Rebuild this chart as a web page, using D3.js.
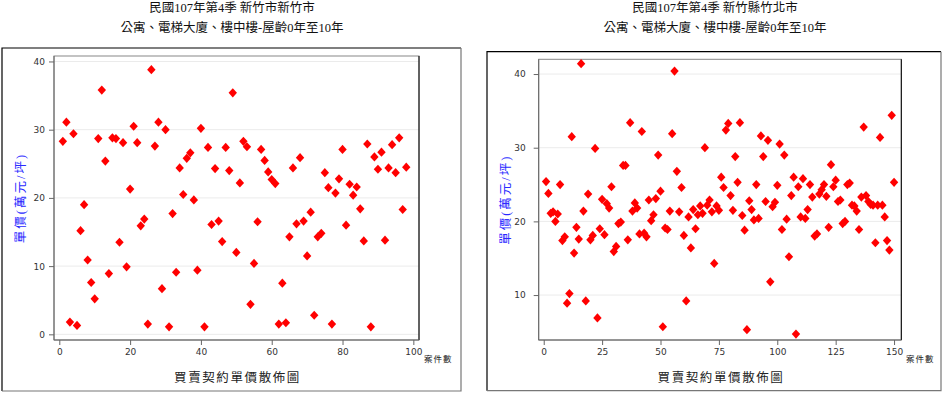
<!DOCTYPE html>
<html>
<head>
<meta charset="utf-8">
<script src="https://cdn.jsdelivr.net/npm/d3@7/dist/d3.min.js"></script>
<style>
  body { margin: 0; background: #fff; }
  svg { display: block; }
  .cjk { font-family: "Liberation Serif", "Noto Sans CJK TC", serif; }
  .tick text { font-family: "DejaVu Sans", sans-serif; font-size: 9px; fill: #333; }
  .tick line, .domain { stroke: #666; }
</style>
</head>
<body>
<div id="chart"></div>
<script>
'use strict';

// chart 1: 新竹市新竹市
let leftTitle = ['民國107年第4季 新竹市新竹市', '公寓、電梯大廈、樓中樓-屋齡0年至10年'];
let leftValues = [
  28.3, 31.1, 1.8, 29.4, 1.3, 15.2, 19.0, 10.9, 7.6, 5.2,
  28.7, 35.8, 25.4, 8.9, 28.8, 28.7, 13.5, 28.1, 9.9, 21.3,
  30.5, 28.1, 15.9, 16.9, 1.5, 38.8, 27.6, 31.1, 6.7, 30.0,
  1.1, 17.7, 9.1, 24.4, 20.5, 25.8, 26.6, 19.7, 9.4, 30.2,
  1.1, 27.4, 16.1, 24.3, 16.6, 13.6, 27.4, 24.0, 35.4, 12.0,
  22.2, 28.3, 27.5, 4.4, 10.4, 16.5, 27.1, 25.5, 23.8, 22.7,
  22.1, 1.5, 7.5, 1.7, 14.3, 24.4, 16.2, 25.9, 16.6, 11.5,
  17.9, 2.8, 14.3, 14.8, 23.7, 21.5, 1.5, 20.7, 22.8, 27.1,
  16.0, 22.0, 20.4, 21.6, 18.4, 13.7, 27.9, 1.1, 26.0, 24.2,
  26.7, 13.8, 24.4, 27.8, 23.7, 28.8, 18.3, 24.5
];
let leftXTicks = [0, 20, 40, 60, 80, 100];
let leftYTicks = [0, 10, 20, 30, 40];

// chart 2: 新竹縣竹北市
let rightTitle = ['民國107年第4季 新竹縣竹北市', '公寓、電梯大廈、樓中樓-屋齡0年至10年'];
let rightValues = [
  25.4, 23.8, 21.1, 21.3, 20.0, 21.0, 25.0, 17.4, 17.9, 8.9,
  10.2, 31.5, 15.7, 19.2, 17.6, 41.4, 21.4, 9.2, 23.7, 17.5,
  18.1, 29.9, 6.9, 19.0, 23.0, 18.2, 22.4, 21.8, 24.7, 15.9,
  16.6, 19.7, 19.9, 27.6, 27.6, 17.5, 33.4, 21.4, 22.5, 21.8,
  18.3, 32.2, 18.4, 17.9, 22.9, 20.1, 20.9, 23.1, 29.0, 24.1,
  5.7, 19.1, 18.9, 21.4, 31.9, 40.4, 26.8, 21.3, 24.6, 18.1,
  9.2, 20.6, 16.4, 21.6, 19.0, 20.9, 22.1, 21.1, 30.0, 22.2,
  22.9, 21.3, 14.3, 22.1, 21.5, 26.0, 24.6, 32.4, 33.3, 23.5,
  21.5, 28.8, 25.3, 33.4, 20.8, 18.8, 5.3, 22.8, 21.6, 20.2,
  25.0, 20.4, 31.6, 28.8, 22.7, 31.0, 11.8, 22.0, 22.6, 24.9,
  30.5, 18.9, 29.0, 20.3, 15.2, 23.5, 26.0, 4.7, 24.7, 20.6,
  25.8, 20.4, 21.6, 25.0, 23.3, 18.0, 18.3, 23.7, 24.3, 25.0,
  23.4, 19.2, 27.7, 24.7, 25.6, 22.7, 22.9, 19.7, 20.0, 25.0,
  25.2, 22.2, 22.1, 21.4, 18.9, 23.3, 32.8, 23.5, 22.7, 22.3,
  22.2, 17.1, 22.2, 31.4, 22.2, 20.6, 17.4, 16.1, 34.4, 25.3
];
let rightXTicks = [0, 25, 50, 75, 100, 125, 150];
let rightYTicks = [10, 20, 30, 40];

let yLabel = '單價(萬元/坪)';
let xLabel = '買賣契約單價散佈圖';
let xUnit = '案件數';

let svg = d3.select('#chart').append('svg')
    .attr('width', 944)
    .attr('height', 393);

function drawChart(cfg) {
    let g = svg.append('g');

    let xScale = d3.scaleLinear().domain(cfg.xDomain).range([cfg.plot.x0, cfg.plot.x1]);
    let yScale = d3.scaleLinear().domain(cfg.yDomain).range([cfg.plot.y1, cfg.plot.y0]);

    // outer box
    let b = cfg.box;
    g.append('path')
        .attr('d', `M${b.x},${b.y + b.h} V${b.y} H${b.x + b.w}`)
        .attr('fill', 'none').attr('stroke', '#000').attr('stroke-width', 1.2);
    g.append('path')
        .attr('d', `M${b.x + b.w},${b.y} V${b.y + b.h} H${b.x}`)
        .attr('fill', 'none').attr('stroke', '#777').attr('stroke-width', 1.2);

    // titles
    cfg.title.forEach((t, i) => {
        g.append('text')
            .attr('class', 'cjk')
            .attr('x', cfg.titleX)
            .attr('y', 11.5 + i * 20)
            .attr('text-anchor', 'middle')
            .style('font-size', '12.5px')
            .attr('fill', '#111')
            .text(t);
    });

    // grid
    g.append('g').selectAll('line')
        .data(cfg.yTicks)
        .enter()
        .append('line')
        .attr('x1', cfg.plot.x0)
        .attr('x2', cfg.plot.x1)
        .attr('y1', d => yScale(d))
        .attr('y2', d => yScale(d))
        .attr('stroke', '#ebebeb');

    // plot frame
    g.append('rect')
        .attr('x', cfg.plot.x0).attr('y', cfg.plot.y0)
        .attr('width', cfg.plot.x1 - cfg.plot.x0)
        .attr('height', cfg.plot.y1 - cfg.plot.y0)
        .attr('fill', 'none').attr('stroke', '#888');
    g.append('line')
        .attr('x1', cfg.plot.x1).attr('x2', cfg.plot.x1)
        .attr('y1', cfg.plot.y0).attr('y2', cfg.plot.y1)
        .attr('stroke', '#000');

    // points
    let diamond = 'M0,-4.6L4.2,0L0,4.6L-4.2,0Z';
    g.append('g').selectAll('path')
        .data(cfg.values)
        .enter()
        .append('path')
        .attr('d', diamond)
        .attr('fill', '#ff0000')
        .attr('transform', (d, i) => `translate(${xScale(i + 1)},${yScale(d)})`);

    // axes
    let xAxis = d3.axisBottom(xScale).tickValues(cfg.xTicks).tickSize(5).tickPadding(4);
    let yAxis = d3.axisLeft(yScale).tickValues(cfg.yTicks).tickSize(5).tickPadding(cfg.yPad);

    let gx = g.append('g')
        .attr('transform', `translate(0, ${cfg.plot.y1})`)
        .call(xAxis);
    gx.select('.domain').attr('d', `M${cfg.plot.x0},0H${cfg.plot.x1}`).attr('stroke', cfg.xAxisColor);

    let gy = g.append('g')
        .attr('transform', `translate(${cfg.plot.x0}, 0)`)
        .call(yAxis);
    gy.select('.domain').attr('d', `M0,${cfg.plot.y0}V${cfg.plot.y1}`).attr('stroke', '#777');

    // axis labels
    let midX = (cfg.plot.x0 + cfg.plot.x1) / 2;
    let midY = (cfg.plot.y0 + cfg.plot.y1) / 2;

    g.append('text')
        .attr('class', 'cjk')
        .text(xLabel)
        .attr('text-anchor', 'middle')
        .style('font-size', '12.5px')
        .style('letter-spacing', '1.6px')
        .attr('fill', '#222')
        .attr('transform', `translate(${midX + 1}, ${382})`);

    g.append('text')
        .attr('class', 'cjk')
        .text(xUnit)
        .style('font-size', '8.5px')
        .style('letter-spacing', '1px')
        .attr('fill', '#222')
        .attr('transform', `translate(${cfg.unitX}, 362)`);

    g.append('text')
        .attr('class', 'cjk')
        .text(yLabel)
        .attr('text-anchor', 'middle')
        .style('font-size', '12.5px')
        .style('letter-spacing', '2px')
        .attr('fill', '#2a2aff')
        .attr('transform', `translate(${cfg.yLabelX}, ${midY}), rotate(-90)`);
}

drawChart({
    title: leftTitle,
    values: leftValues,
    xTicks: leftXTicks,
    yTicks: leftYTicks,
    xDomain: [-1.5, 101.6],
    yDomain: [-0.83, 40.8],
    box: { x: 2, y: 48, w: 459, h: 343 },
    plot: { x0: 54, x1: 419, y0: 56, y1: 340 },
    titleX: 232,
    yPad: 4,
    yLabelX: 25,
    unitX: 424,
    xAxisColor: '#777'
});

drawChart({
    title: rightTitle,
    values: rightValues,
    xTicks: rightXTicks,
    yTicks: rightYTicks,
    xDomain: [-2.15, 153.1],
    yDomain: [3.9, 42.0],
    box: { x: 487, y: 51.7, w: 454, h: 339 },
    plot: { x0: 538.7, x1: 901.3, y0: 59.3, y1: 340 },
    titleX: 715,
    yPad: 8,
    yLabelX: 510,
    unitX: 906,
    xAxisColor: '#000'
});
</script>
</body>
</html>
